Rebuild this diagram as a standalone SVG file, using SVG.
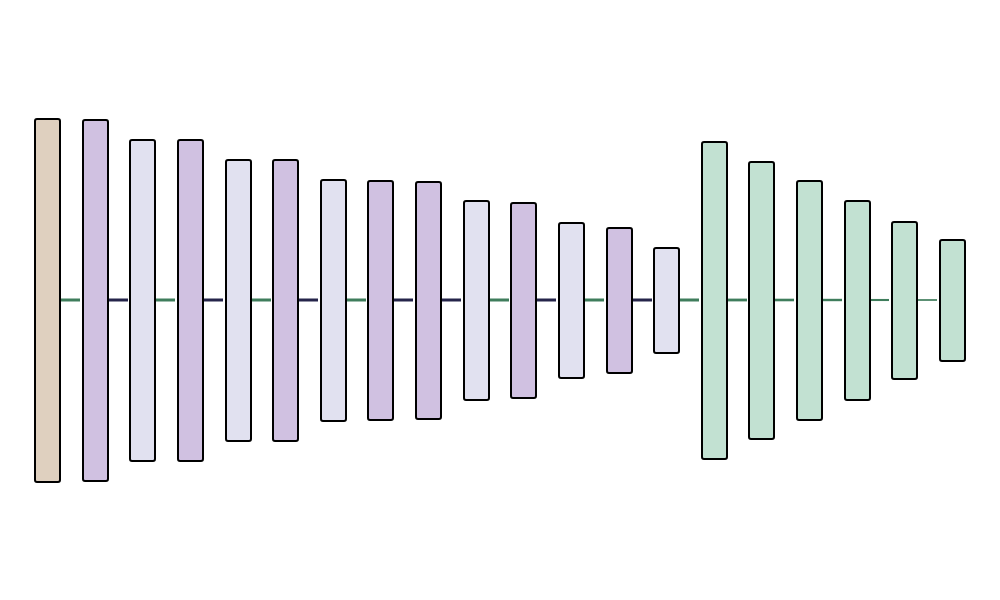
<svg xmlns="http://www.w3.org/2000/svg" width="1000" height="600" viewBox="0 0 1000 600">
<style>
.b{stroke:#000;stroke-width:2;}
.tan{fill:#dfd0bf;}
.pur{fill:#d0c1e1;}
.lav{fill:#e1e1f0;}
.grn{fill:#c2e1d2;}
.cg{stroke:#3f7d5c;stroke-width:3;}
.cn{stroke:#25244a;stroke-width:3;}
</style>
<rect width="1000" height="600" fill="#fff"/>
<g id="connectors">
<line class="cg" x1="60" y1="300" x2="80" y2="300"/>
<line class="cn" x1="108" y1="300" x2="128" y2="300"/>
<line class="cg" x1="155" y1="300" x2="175" y2="300"/>
<line class="cn" x1="203" y1="300" x2="223" y2="300"/>
<line class="cg" x1="251" y1="300" x2="271" y2="300"/>
<line class="cn" x1="298" y1="300" x2="318" y2="300"/>
<line class="cg" x1="346" y1="300" x2="366" y2="300"/>
<line class="cn" x1="393" y1="300" x2="413" y2="300"/>
<line class="cn" x1="441" y1="300" x2="461" y2="300"/>
<line class="cg" x1="489" y1="300" x2="509" y2="300"/>
<line class="cn" x1="536" y1="300" x2="556" y2="300"/>
<line class="cg" x1="584" y1="300" x2="604" y2="300"/>
<line class="cn" x1="632" y1="300" x2="652" y2="300"/>
<line class="cg" x1="679" y1="300" x2="699" y2="300"/>
<line class="cg" x1="727" y1="300" x2="747" y2="300" style="stroke-width:2.8"/>
<line class="cg" x1="774" y1="300" x2="794" y2="300" style="stroke-width:2.6"/>
<line class="cg" x1="822" y1="300" x2="842" y2="300" style="stroke-width:2.4"/>
<line class="cg" x1="870" y1="300" x2="889" y2="300" style="stroke-width:2.1"/>
<line class="cg" x1="917" y1="300" x2="937" y2="300" style="stroke-width:1.7"/>
</g>
<g id="n1"><rect class="b tan" x="35" y="119" width="25" height="363" rx="2"/></g>
<g id="n2"><rect class="b pur" x="83" y="120" width="25" height="361" rx="2"/></g>
<g id="n3"><rect class="b lav" x="130" y="140" width="25" height="321" rx="2"/></g>
<g id="n4"><rect class="b pur" x="178" y="140" width="25" height="321" rx="2"/></g>
<g id="n5"><rect class="b lav" x="226" y="160" width="25" height="281" rx="2"/></g>
<g id="n6"><rect class="b pur" x="273" y="160" width="25" height="281" rx="2"/></g>
<g id="n7"><rect class="b lav" x="321" y="180" width="25" height="241" rx="2"/></g>
<g id="n8"><rect class="b pur" x="368" y="181" width="25" height="239" rx="2"/></g>
<g id="n9"><rect class="b pur" x="416" y="182" width="25" height="237" rx="2"/></g>
<g id="n10"><rect class="b lav" x="464" y="201" width="25" height="199" rx="2"/></g>
<g id="n11"><rect class="b pur" x="511" y="203" width="25" height="195" rx="2"/></g>
<g id="n12"><rect class="b lav" x="559" y="223" width="25" height="155" rx="2"/></g>
<g id="n13"><rect class="b pur" x="607" y="228" width="25" height="145" rx="2"/></g>
<g id="n14"><rect class="b lav" x="654" y="248" width="25" height="105" rx="2"/></g>
<g id="n15"><rect class="b grn" x="702" y="142" width="25" height="317" rx="2"/></g>
<g id="n16"><rect class="b grn" x="749" y="162" width="25" height="277" rx="2"/></g>
<g id="n17"><rect class="b grn" x="797" y="181" width="25" height="239" rx="2"/></g>
<g id="n18"><rect class="b grn" x="845" y="201" width="25" height="199" rx="2"/></g>
<g id="n19"><rect class="b grn" x="892" y="222" width="25" height="157" rx="2"/></g>
<g id="n20"><rect class="b grn" x="940" y="240" width="25" height="121" rx="2"/></g>
</svg>
